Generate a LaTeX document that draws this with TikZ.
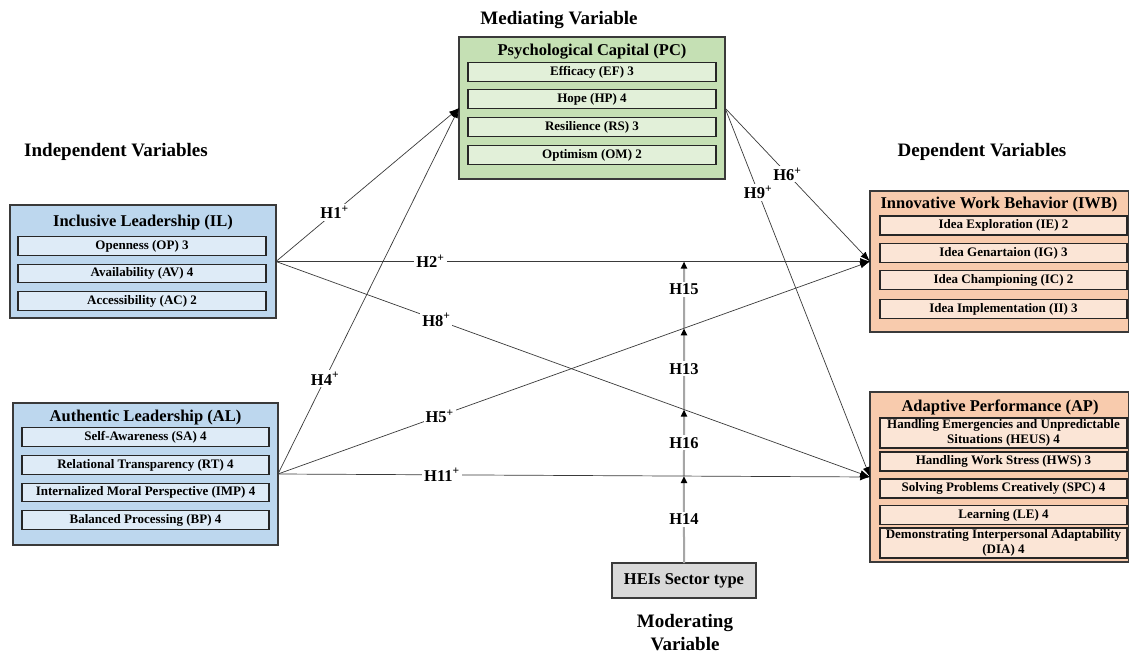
\documentclass[tikz,border=0pt]{standalone}
\usepackage{fontspec}
\setmainfont{Liberation Serif}
\usetikzlibrary{arrows.meta}

\definecolor{pcfill}{HTML}{C5E0B4}
\definecolor{pcin}{HTML}{E2F0D9}
\definecolor{ldfill}{HTML}{BDD7EE}
\definecolor{ldin}{HTML}{DEEBF7}
\definecolor{dvfill}{HTML}{F8CBAD}
\definecolor{dvin}{HTML}{FBE5D6}
\definecolor{hefill}{HTML}{D9D9D9}
\definecolor{edge}{HTML}{3A3A3A}
\definecolor{modgray}{HTML}{A6A6A6}

\begin{document}
\begin{tikzpicture}[x=1pt,y=-1pt,
  group/.style={draw=edge, line width=1.2pt, inner sep=0pt, outer sep=0pt},
  item/.style={draw=black!85, line width=1.2pt, inner sep=0pt, outer sep=0pt,
    font=\fontsize{13}{15}\selectfont\bfseries, align=center},
  pcitem/.style={item, fill=pcin, minimum width=248pt, minimum height=19pt},
  ilitem/.style={item, fill=ldin, minimum width=248pt, minimum height=18.5pt},
  alitem/.style={item, fill=ldin, minimum width=247pt, minimum height=18.5pt},
  dvitem/.style={item, fill=dvin, minimum width=247pt, minimum height=19pt},
  gtitle/.style={font=\fontsize{16.5}{19}\selectfont\bfseries, inner sep=0pt},
  heading/.style={font=\fontsize{19}{23}\selectfont\bfseries, align=center},
  hyp/.style={font=\fontsize{16.5}{19}\selectfont\bfseries, fill=white, inner sep=2pt},
  link/.style={draw=edge, line width=0.7pt,
    -{Latex[length=10pt,width=7pt,color=black,fill=black]}},
  modline/.style={draw=modgray, line width=2pt,
    -{Triangle[length=7pt,width=6pt,color=black,fill=black]}},
]
\useasboundingbox (0,0) rectangle (1129,655);
\fill[white] (0,0) rectangle (1129,655);

% ---- headings ----
\node[heading] (medh) at (559,20) {Mediating Variable};
\node[heading] (indh) at (116,152) {Independent Variables};
\node[heading] (deph) at (982,152) {Dependent Variables};
\node[heading] (modh) at (685,633) {Moderating\\Variable};

% ---- Psychological Capital ----
\node[group, fill=pcfill, minimum width=266pt, minimum height=142pt] (pc) at (592,108) {};
\node[gtitle] (pct) at (592,52) {Psychological Capital (PC)};
\node[pcitem] (ef) at (592,72) {Efficacy (EF) 3};
\node[pcitem] (hp) at (592,99) {Hope (HP) 4};
\node[pcitem] (rs) at (592,127) {Resilience (RS) 3};
\node[pcitem] (om) at (592,155) {Optimism (OM) 2};

% ---- Inclusive Leadership ----
\node[group, fill=ldfill, minimum width=266pt, minimum height=113pt] (il) at (143,261.5) {};
\node[gtitle] (ilt) at (143,223) {Inclusive Leadership (IL)};
\node[ilitem] (op) at (142,246) {Openness (OP) 3};
\node[ilitem] (av) at (142,273.5) {Availability (AV) 4};
\node[ilitem] (ac) at (142,301) {Accessibility (AC) 2};

% ---- Authentic Leadership ----
\node[group, fill=ldfill, minimum width=265pt, minimum height=142pt] (al) at (145.5,474) {};
\node[gtitle] (alt) at (145.5,418) {Authentic Leadership (AL)};
\node[alitem] (sa) at (145.5,437) {Self-Awareness (SA) 4};
\node[alitem] (rt) at (145.5,465) {Relational Transparency (RT) 4};
\node[alitem] (imp) at (145.5,492.5) {Internalized Moral Perspective (IMP) 4};
\node[alitem] (bp) at (145.5,520) {Balanced Processing (BP) 4};

% ---- Innovative Work Behavior ----
\node[group, fill=dvfill, minimum width=259pt, minimum height=141pt] (iwb) at (999.5,261.5) {};
\node[gtitle] (iwbt) at (999,205) {Innovative Work Behavior (IWB)};
\node[dvitem] (ie) at (1003.5,225.5) {Idea Exploration (IE) 2};
\node[dvitem] (ig) at (1003.5,253) {Idea Genartaion (IG) 3};
\node[dvitem] (ic) at (1003.5,280) {Idea Championing (IC) 2};
\node[dvitem] (ii) at (1003.5,309) {Idea Implementation (II) 3};

% ---- Adaptive Performance ----
\node[group, fill=dvfill, minimum width=259pt, minimum height=170pt] (ap) at (999.5,477) {};
\node[gtitle] (apt) at (1000,407) {Adaptive Performance (AP)};
\node[dvitem, minimum height=30pt] (heus) at (1003.5,433) {Handling Emergencies and Unpredictable\\Situations (HEUS) 4};
\node[dvitem] (hws) at (1003.5,461.5) {Handling Work Stress (HWS) 3};
\node[dvitem] (spc) at (1003.5,488.5) {Solving Problems Creatively (SPC) 4};
\node[dvitem] (le) at (1003.5,515) {Learning (LE) 4};
\node[dvitem, minimum height=30pt] (dia) at (1003.5,543) {Demonstrating Interpersonal Adaptability\\(DIA) 4};

% ---- moderator ----
\node[group, fill=hefill, minimum width=144pt, minimum height=35pt,
  font=\fontsize{16.5}{19}\selectfont\bfseries] (hei) at (684,580.5) {HEIs Sector type};

% points where the moderator meets the direct paths
\coordinate (m2) at (hei.north |- iwb.west);
\coordinate (m11) at (intersection of al.east--ap.west and hei.north--m2);
\coordinate (m8) at (intersection of il.east--ap.west and hei.north--m2);
\coordinate (m5) at (intersection of al.east--iwb.west and hei.north--m2);

\draw[modline] (hei.north) -- (m11);
\draw[modline] (m11) -- (m8);
\draw[modline] (m8) -- (m5);
\draw[modline] (m5) -- (m2);

% ---- structural paths ----
\draw[link] (il.east) -- (pc.west);
\draw[link] (al.east) -- (pc.west);
\draw[link] (il.east) -- (iwb.west);
\draw[link] (il.east) -- (ap.west);
\draw[link] (al.east) -- (iwb.west);
\draw[link] (al.east) -- (ap.west);
\draw[link] (pc.east) -- (iwb.west);
\draw[link] (pc.east) -- (ap.west);

% ---- hypothesis labels ----
\path (il.east) -- node[hyp, pos=.32] (h1) {H1\textsuperscript{+}} (pc.west);
\path (al.east) -- node[hyp, pos=.26] (h4) {H4\textsuperscript{+}} (pc.west);
\path (il.east) -- node[hyp, pos=.26] (h2) {H2\textsuperscript{+}} (iwb.west);
\path (il.east) -- node[hyp, pos=.27] (h8) {H8\textsuperscript{+}} (ap.west);
\path (al.east) -- node[hyp, pos=.273] (h5) {H5\textsuperscript{+}} (iwb.west);
\path (al.east) -- node[hyp, pos=.277] (h11) {H11\textsuperscript{+}} (ap.west);
\path (pc.east) -- node[hyp, pos=.43] (h6) {H6\textsuperscript{+}} (iwb.west);
\path (pc.east) -- node[hyp, pos=.228] (h9) {H9\textsuperscript{+}} (ap.west);

\path (m5) -- node[hyp, pos=.58] (h15) {H15} (m2);
\path (m8) -- node[hyp, pos=.5] (h13) {H13} (m5);
\path (m11) -- node[hyp, pos=.5] (h16) {H16} (m8);
\path (hei.north) -- node[hyp, pos=.5] (h14) {H14} (m11);
\end{tikzpicture}
\end{document}
